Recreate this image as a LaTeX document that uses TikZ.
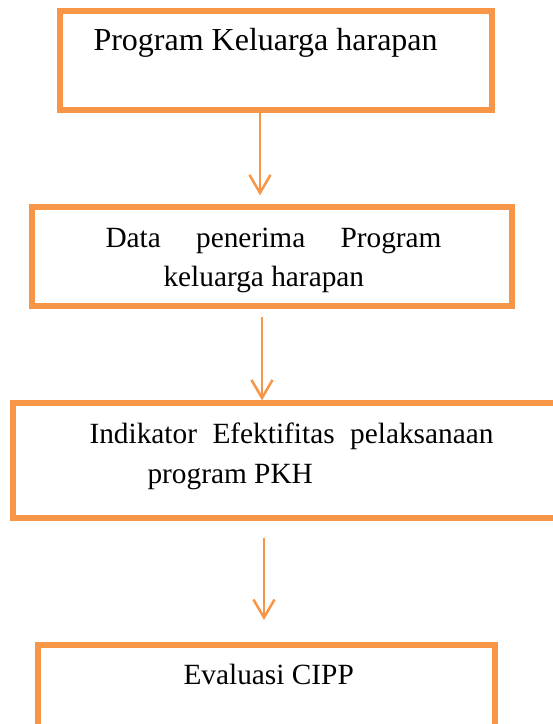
\documentclass[tikz,border=0pt]{standalone}
\usepackage{fontspec}
\setmainfont{Liberation Serif}
\usetikzlibrary{arrows.meta}
\definecolor{boxorange}{HTML}{F79646}
\newlength{\px}
\setlength{\px}{0.375pt}

\begin{document}
\begin{tikzpicture}[x=\px, y=-\px,
box/.style = {draw=boxorange, line width=5.2\px, fill=none, inner sep=0pt},
txt/.style = {inner sep=0pt, anchor=base west, text=black},
big/.style = {font=\fontsize{12}{14}\selectfont},
small/.style = {font=\fontsize{11}{14}\selectfont},
arr/.style = {draw=boxorange, line width=0.94pt,
  -{Straight Barb[length=6.75pt, width=7.9pt, line width=0.94pt]}}
]
\useasboundingbox (0,0) rectangle (553,724);

\node [box, minimum width=432\px, minimum height=99\px] (b1) at (276,60.5) {};
\node [box, minimum width=480\px, minimum height=99\px] (b2) at (272,256.5) {};
\node [box, minimum width=562\px, minimum height=115\px] (b3) at (294,460.5) {};
\node [box, minimum width=457\px, minimum height=110\px] (b4) at (266.5,700) {};

\node [txt, big] (t1) at (93,50) {Program Keluarga harapan};
\node [txt, small] (t2) at (105,247) {\makebox[336\px][s]{Data penerima Program}};
\node [txt, small] (t3) at (163,286) {keluarga harapan};
\node [txt, small] (t4) at (89,443)
  {\makebox[404\px][s]{Indikator Efektifitas pelaksanaan}};
\node [txt, small] (t5) at (147,483) {program PKH};
\node [txt, small] (t6) at (183,684) {Evaluasi CIPP};

\draw [arr, shorten >=3.4pt] ([xshift=-16\px]b1.south) -- ([xshift=-12\px]b2.north);
\draw [arr, shorten <=3.2pt] ([xshift=-10\px]b2.south) -- ([xshift=-32\px]b3.north);
\draw [arr, shorten <=6.6pt, shorten >=8.4pt] ([xshift=-30\px]b3.south) -- ([xshift=-2.5\px]b4.north);

\end{tikzpicture}
\end{document}
